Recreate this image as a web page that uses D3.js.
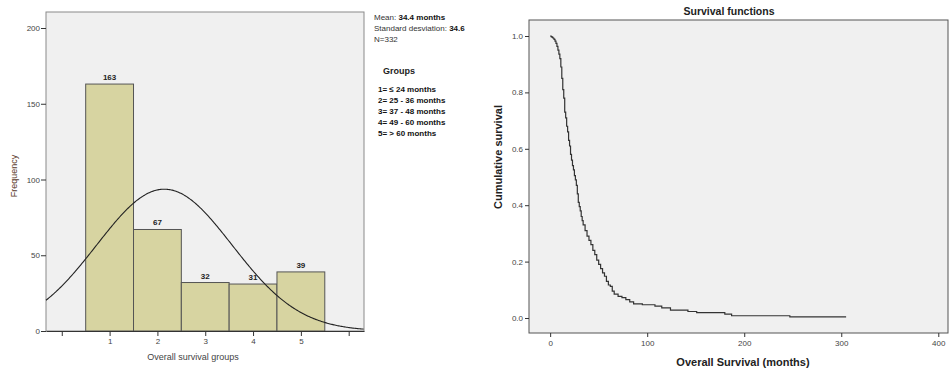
<!DOCTYPE html>
<html><head><meta charset="utf-8">
<script src="https://cdn.jsdelivr.net/npm/d3@7"></script>
<style>
body{margin:0;background:#fff;}
svg{display:block;font-family:"Liberation Sans",Arial,sans-serif;}
</style></head><body>
<svg id="c" width="949" height="368"></svg>
<script>
// ---- Histogram data ----
const groups = [1, 2, 3, 4, 5];
const frequencies = [163, 67, 32, 31, 39];
const histYTicks = [0, 50, 100, 150, 200];
const histXTicks = [0, 1, 2, 3, 4, 5, 6];
const histXLabels = ["", "1", "2", "3", "4", "5", ""];
// normal-curve parameters (fit to grouped data)
const normalMean = 2.145;
const normalSD = 1.415;
const normalN = 332;
const statsLines = [["Mean: ", "34.4 months"], ["Standard desviation: ", "34.6"], ["N=332", ""]];
const legendTitle = "Groups";
const legendItems = ["1= \u2264 24 months", "2= 25 - 36 months", "3= 37 - 48 months", "4= 49 - 60 months", "5= > 60 months"];

// ---- Kaplan-Meier data ----
const kmTime = [0, 1, 2, 3, 4, 5, 6, 7, 8, 9, 10, 11, 12, 13, 14, 15, 16, 17, 18, 19, 20, 21, 22, 23, 24, 25, 26, 27, 28, 29, 30, 31, 32, 33, 34, 36, 38, 40, 42, 44, 46, 48, 50, 52, 54, 56, 58, 60, 62, 64, 66, 70, 74, 78, 82, 86, 95, 108, 115, 124, 142, 151, 180, 187, 247, 305];
const kmSurv = [1.0, 0.998, 0.995, 0.992, 0.988, 0.982, 0.974, 0.963, 0.95, 0.936, 0.92, 0.89, 0.85, 0.81, 0.78, 0.73, 0.71, 0.68, 0.66, 0.63, 0.61, 0.58, 0.56, 0.54, 0.525, 0.505, 0.49, 0.47, 0.44, 0.41, 0.395, 0.38, 0.36, 0.345, 0.33, 0.31, 0.29, 0.275, 0.26, 0.24, 0.225, 0.205, 0.19, 0.175, 0.16, 0.148, 0.13, 0.117, 0.112, 0.095, 0.085, 0.077, 0.072, 0.065, 0.057, 0.05, 0.047, 0.042, 0.036, 0.028, 0.023, 0.019, 0.014, 0.008, 0.004, 0.004];
const kmYTicks = [0, 0.2, 0.4, 0.6, 0.8, 1.0];
const kmXTicks = [0, 100, 200, 300, 400];

const svg = d3.select("#c");

// ================= LEFT: histogram =================
const L = {x0: 46, x1: 364, y0: 12, y1: 331};
const hx = d3.scaleLinear().domain([-0.33, 6.32]).range([L.x0, L.x1]);
const hy = d3.scaleLinear().domain([0, 200]).range([L.y1, 28]);

svg.append("rect").attr("x", L.x0).attr("y", L.y0).attr("width", L.x1 - L.x0).attr("height", L.y1 - L.y0)
  .attr("fill", "#f0f0f0").attr("stroke", "#8a8a8a").attr("stroke-width", 1);

const gl = svg.append("g");
gl.selectAll("rect.bar").data(groups).join("rect").attr("class", "bar")
  .attr("x", (d) => hx(d - 0.5)).attr("width", (d) => hx(d + 0.5) - hx(d - 0.5))
  .attr("y", (d, i) => hy(frequencies[i])).attr("height", (d, i) => hy(0) - hy(frequencies[i]))
  .attr("fill", "#d7d4a1").attr("stroke", "#555").attr("stroke-width", 1);

gl.selectAll("text.val").data(groups).join("text").attr("class", "val")
  .attr("x", (d) => hx(d)).attr("y", (d, i) => hy(frequencies[i]) - 4)
  .attr("text-anchor", "middle").attr("font-size", 8).attr("font-weight", "bold").attr("fill", "#222")
  .text((d, i) => frequencies[i]);

// normal curve
const curvePts = d3.range(-0.33, 6.33, 0.02).map((x) => [x, normalN / (normalSD * Math.sqrt(2 * Math.PI)) * Math.exp(-0.5 * Math.pow((x - normalMean) / normalSD, 2))]);
gl.append("path").datum(curvePts)
  .attr("d", d3.line().x((d) => hx(d[0])).y((d) => hy(d[1])))
  .attr("fill", "none").attr("stroke", "#222").attr("stroke-width", 1.1);

// axes
const hxAxis = d3.axisBottom(hx).tickValues(histXTicks).tickFormat((d, i) => histXLabels[i]).tickSizeInner(5).tickSizeOuter(0).tickPadding(2);
const gx = svg.append("g").attr("transform", `translate(0,${L.y1})`).call(hxAxis);
gx.select(".domain").attr("stroke", "#333");
gx.selectAll(".tick line").attr("stroke", "#333");
gx.selectAll("text").attr("font-size", 8).attr("fill", "#444").attr("font-family", "Liberation Sans, Arial");
const hyAxis = d3.axisLeft(hy).tickValues(histYTicks).tickSize(5).tickPadding(1);
const gy = svg.append("g").attr("transform", `translate(${L.x0},0)`).call(hyAxis);
gy.select(".domain").remove();
gy.selectAll(".tick line").attr("stroke", "#333");
gy.selectAll("text").attr("font-size", 8).attr("fill", "#444").attr("font-family", "Liberation Sans, Arial");

svg.append("text").attr("x", 193).attr("y", 360).attr("text-anchor", "middle").attr("font-size", 9).attr("fill", "#444").text("Overall survival groups");
svg.append("text").attr("transform", "translate(17,176) rotate(-90)").attr("text-anchor", "middle").attr("font-size", 9).attr("fill", "#5a3a2a").text("Frequency");

// stats and legend
const st = svg.append("g");
statsLines.forEach((s, i) => {
  const t = st.append("text").attr("x", 374).attr("y", 20 + i * 11).attr("font-size", 8).attr("fill", "#333");
  t.append("tspan").text(s[0]);
  if (s[1]) t.append("tspan").attr("font-weight", "bold").attr("fill", "#111").text(s[1]);
});
st.append("text").attr("x", 383).attr("y", 74).attr("font-size", 9).attr("font-weight", "bold").attr("fill", "#222").text(legendTitle);
legendItems.forEach((s, i) => {
  st.append("text").attr("x", 378).attr("y", 92 + i * 11).attr("font-size", 8).attr("font-weight", "bold").attr("fill", "#111").text(s);
});

// ================= RIGHT: Kaplan-Meier =================
const R = {x0: 529, x1: 948, y0: 20, y1: 333};
const kx = d3.scaleLinear().domain([-21.8, 410]).range([R.x0, R.x1]);
const ky = d3.scaleLinear().domain([0, 1]).range([318, 36]);

svg.append("rect").attr("x", R.x0).attr("y", R.y0).attr("width", R.x1 - R.x0).attr("height", R.y1 - R.y0)
  .attr("fill", "#f0f0f0").attr("stroke", "#555").attr("stroke-width", 1);

const kmData = kmTime.map((t, i) => [t, kmSurv[i]]);
svg.append("path").datum(kmData)
  .attr("d", d3.line().x((d) => kx(d[0])).y((d) => ky(d[1])).curve(d3.curveStepAfter))
  .attr("fill", "none").attr("stroke", "#333").attr("stroke-width", 1.2);

const kxAxis = d3.axisBottom(kx).tickValues(kmXTicks).tickFormat(d3.format("d")).tickSizeInner(4).tickSizeOuter(0).tickPadding(3);
const gkx = svg.append("g").attr("transform", `translate(0,${R.y1})`).call(kxAxis);
gkx.select(".domain").remove();
gkx.selectAll(".tick line").attr("stroke", "#333");
gkx.selectAll("text").attr("font-size", 8).attr("fill", "#444").attr("font-family", "Liberation Sans, Arial");
const kyAxis = d3.axisLeft(ky).tickValues(kmYTicks).tickFormat(d3.format(".1f")).tickSizeInner(4).tickSizeOuter(0).tickPadding(2);
const gky = svg.append("g").attr("transform", `translate(${R.x0},0)`).call(kyAxis);
gky.select(".domain").remove();
gky.selectAll(".tick line").attr("stroke", "#333");
gky.selectAll("text").attr("font-size", 8).attr("fill", "#444").attr("font-family", "Liberation Sans, Arial");

svg.append("text").attr("x", 729).attr("y", 15).attr("text-anchor", "middle").attr("font-size", 10.5).attr("font-weight", "bold").attr("fill", "#222").text("Survival functions");
svg.append("text").attr("x", 743).attr("y", 366).attr("text-anchor", "middle").attr("font-size", 11).attr("font-weight", "bold").attr("fill", "#222").text("Overall Survival (months)");
svg.append("text").attr("transform", "translate(502,157) rotate(-90)").attr("text-anchor", "middle").attr("font-size", 11).attr("font-weight", "bold").attr("fill", "#222").text("Cumulative survival");
</script>
</body></html>
